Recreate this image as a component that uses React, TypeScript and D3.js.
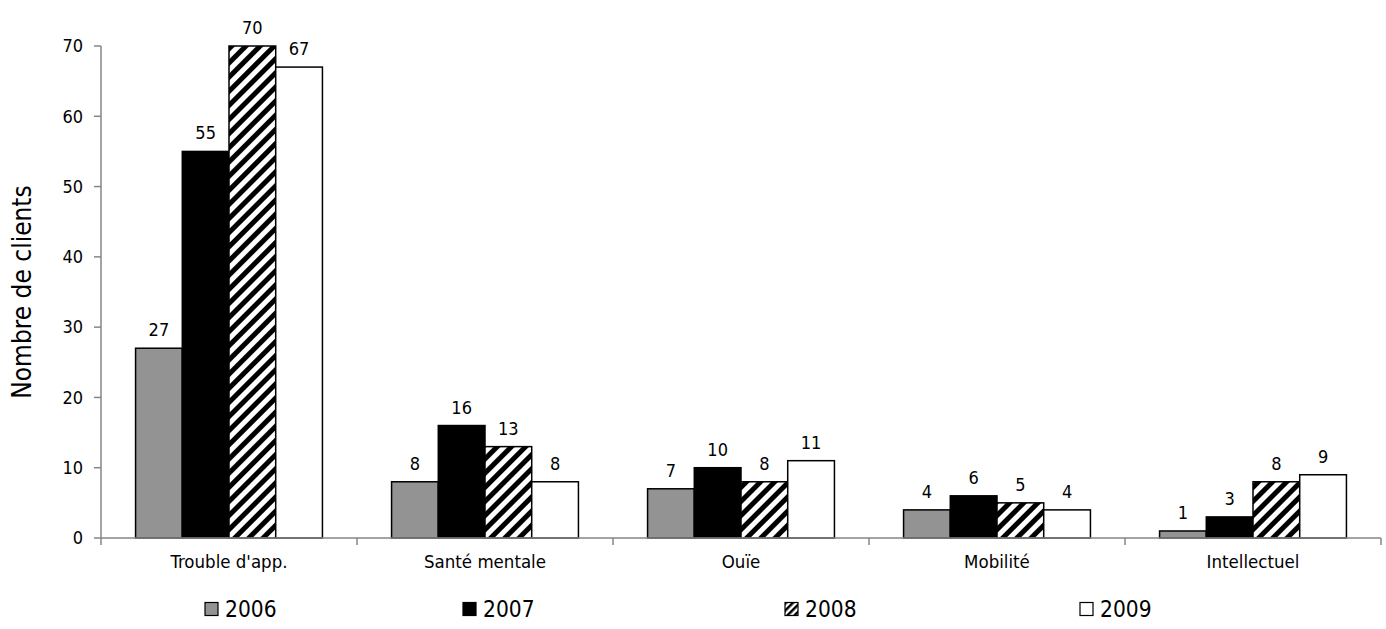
import React from "react";
import * as d3 from "d3";

const categories = ["Trouble d'app.", "Santé mentale", "Ouïe", "Mobilité", "Intellectuel"];
const years = ["2006", "2007", "2008", "2009"];
const values2006 = [27, 8, 7, 4, 1];
const values2007 = [55, 16, 10, 6, 3];
const values2008 = [70, 13, 8, 5, 8];
const values2009 = [67, 8, 11, 4, 9];
const yTicks = [0, 10, 20, 30, 40, 50, 60, 70];

const series = [values2006, values2007, values2008, values2009];
const fills = ["#939393", "#000000", "url(#hatch)", "#ffffff"];
const font = "'DejaVu Sans Condensed', 'Open Sans', sans-serif";

export default function App() {
  const width = 1386;
  const height = 629;
  const margin = { top: 46, right: 5, bottom: 91, left: 101 };
  const innerW = width - margin.left - margin.right;
  const innerH = height - margin.top - margin.bottom;

  const x0 = d3.scaleBand<string>().domain(categories).range([0, innerW]).paddingInner(0).paddingOuter(0);
  const x1 = d3.scaleBand<string>().domain(years).range([0, x0.bandwidth()]).paddingInner(0).paddingOuter(0.74);
  const y = d3.scaleLinear().domain([0, 70]).range([innerH, 0]);

  const legendX = [205, 463, 785, 1080];

  return (
    <svg width={width} height={height} style={{ position: "absolute", left: 0, top: 0, fontFamily: font, fontStretch: "condensed" }}>
      <defs>
        <pattern id="hatch" width="10" height="10" patternUnits="userSpaceOnUse" patternTransform="rotate(45)">
          <rect width="10" height="10" fill="#fff" />
          <rect width="5" height="10" fill="#000" />
        </pattern>
        <pattern id="hatchSmall" width="5" height="5" patternUnits="userSpaceOnUse" patternTransform="rotate(45)">
          <rect width="5" height="5" fill="#fff" />
          <rect width="2.5" height="5" fill="#000" />
        </pattern>
      </defs>
      <rect width={width} height={height} fill="#fff" />
      <g transform={`translate(${margin.left},${margin.top})`}>
        {/* bars */}
        {categories.map((c, ci) => (
          <g key={c} transform={`translate(${x0(c)},0)`}>
            {years.map((yr, si) => {
              const v = series[si][ci];
              const bx = x1(yr)!;
              return (
                <g key={yr}>
                  <rect
                    x={bx}
                    y={y(v)}
                    width={x1.bandwidth()}
                    height={innerH - y(v)}
                    fill={fills[si]}
                    stroke="#000"
                    strokeWidth={1.5}
                  />
                  <text
                    x={bx + x1.bandwidth() / 2}
                    y={y(v) - 12}
                    textAnchor="middle"
                    fontSize={18}
                    fill="#000"
                  >
                    {v}
                  </text>
                </g>
              );
            })}
          </g>
        ))}
        {/* y axis */}
        <line x1={0} x2={0} y1={0} y2={innerH} stroke="#868686" strokeWidth={1.5} />
        {yTicks.map((t) => (
          <g key={t} transform={`translate(0,${y(t)})`}>
            <line x1={-7} x2={0} stroke="#868686" strokeWidth={1.5} />
            <text x={-18} dy="0.35em" textAnchor="end" fontSize={18} fill="#000">
              {t}
            </text>
          </g>
        ))}
        {/* x axis */}
        <line x1={0} x2={innerW} y1={innerH} y2={innerH} stroke="#868686" strokeWidth={1.5} />
        {categories.map((c) => (
          <line key={c} x1={x0(c)! + x0.bandwidth()} x2={x0(c)! + x0.bandwidth()} y1={innerH} y2={innerH + 7} stroke="#868686" strokeWidth={1.5} />
        ))}
        <line x1={0} x2={0} y1={innerH} y2={innerH + 7} stroke="#868686" strokeWidth={1.5} />
        {categories.map((c) => (
          <text key={c} x={x0(c)! + x0.bandwidth() / 2} y={innerH + 24} dy="0.35em" textAnchor="middle" fontSize={18.5} fill="#000">
            {c}
          </text>
        ))}
      </g>
      <text
        transform={`translate(22,${margin.top + innerH / 2}) rotate(-90)`}
        textAnchor="middle"
        dy="0.35em"
        fontSize={26}
        fill="#000"
      >
        Nombre de clients
      </text>
      {/* legend */}
      {years.map((yr, i) => (
        <g key={yr} transform={`translate(${legendX[i]},609)`}>
          <rect x={0} y={-6.5} width={13} height={13} fill={i === 2 ? "url(#hatchSmall)" : fills[i]} stroke="#000" strokeWidth={1.2} />
          <text x={20} dy="0.35em" fontSize={22.5} fill="#000">
            {yr}
          </text>
        </g>
      ))}
    </svg>
  );
}
